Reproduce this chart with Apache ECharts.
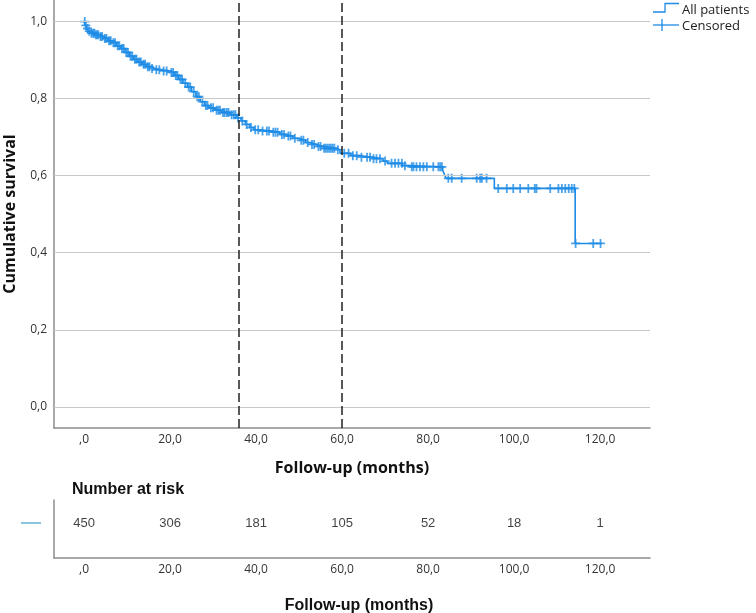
<!DOCTYPE html>
<html><head><meta charset="utf-8">
<script src="https://cdn.jsdelivr.net/npm/echarts@6/dist/echarts.min.js"></script>
<style>html,body{margin:0;padding:0;background:#fff}#c{width:756px;height:613px}</style>
</head><body><div id="c"></div>
<script>
// Kaplan-Meier step curve (time in months, survival after each event)
const eventTimes = [0,0.3,0.6,1,1.5,2.5,3.5,4.5,5.5,6.5,7.5,8.5,9.5,10.5,11.5,12.5,13.5,14.5,15.5,16.5,18,20,21,22,23,24,25,26,27,28,29,30.5,32,34,35.5,36.5,37.5,38.5,39.5,41,43.5,45.5,47,48.5,50,51.5,52.5,54,55.5,58.5,59.5,62,64,67,69.5,70.5,74,75.5,83.4,83.8,84.2,95.4,114.2,120.4];
const eventSurvival = [1,0.99,0.982,0.975,0.97,0.966,0.961,0.956,0.95,0.945,0.937,0.93,0.92,0.91,0.902,0.895,0.889,0.883,0.878,0.875,0.872,0.868,0.86,0.85,0.84,0.83,0.818,0.805,0.792,0.782,0.776,0.77,0.764,0.758,0.75,0.742,0.733,0.725,0.719,0.716,0.713,0.707,0.703,0.697,0.692,0.686,0.681,0.676,0.671,0.667,0.658,0.652,0.648,0.644,0.638,0.632,0.626,0.623,0.614,0.603,0.593,0.567,0.424,0.424];
// Censored observations
const censorTimes = [0.15,0.4,0.8,1.2,1.7,2.1,2.4,2.7,3.0,3.3,3.8,4.2,4.8,5.2,5.8,6.2,6.8,7.2,7.8,8.2,8.8,9.2,9.8,10.2,10.8,11.2,11.8,12.2,12.8,13.2,13.8,14.2,14.8,15.2,15.8,16.8,17.5,18.5,19.2,20.3,20.7,21.3,21.7,22.4,22.8,23.5,24.3,24.7,25.5,26.3,26.7,27.5,28.3,28.7,29.5,30,30.8,31.2,31.6,32.3,32.7,33.2,33.6,34.3,34.8,35.2,35.8,36.8,37.8,38.8,39.8,40.5,41.5,42.5,43,44,44.5,45,46,46.5,47.5,48,49,50.5,51,52,53,53.5,54.5,55,55.8,56.2,56.6,57,57.4,57.8,58.2,59,60.5,61.5,62.5,63.4,64.5,65.8,66.5,67.3,68,68.8,70,71.5,72.3,73.1,73.9,74.6,76.2,76.6,77.3,78.1,78.9,79.7,81.2,82.4,82.8,83.2,84.7,85.5,87.8,91.3,92.1,92.5,93.6,96.3,98.3,99.8,101.4,103.3,104.8,105.2,108.4,110.3,111.1,111.9,112.7,113.4,114,114.3,118.4,120.1];
const censorSurvival = [1,0.99,0.982,0.975,0.97,0.97,0.97,0.966,0.966,0.966,0.961,0.961,0.956,0.956,0.95,0.95,0.945,0.945,0.937,0.937,0.93,0.93,0.92,0.92,0.91,0.91,0.902,0.902,0.895,0.895,0.889,0.889,0.883,0.883,0.878,0.875,0.875,0.872,0.872,0.868,0.868,0.86,0.86,0.85,0.85,0.84,0.83,0.83,0.818,0.805,0.805,0.792,0.782,0.782,0.776,0.776,0.77,0.77,0.77,0.764,0.764,0.764,0.764,0.758,0.758,0.758,0.75,0.742,0.733,0.725,0.719,0.719,0.716,0.716,0.716,0.713,0.713,0.713,0.707,0.707,0.703,0.703,0.697,0.692,0.692,0.686,0.681,0.681,0.676,0.676,0.671,0.671,0.671,0.671,0.671,0.671,0.671,0.667,0.658,0.658,0.652,0.652,0.648,0.648,0.648,0.644,0.644,0.644,0.638,0.632,0.632,0.632,0.632,0.626,0.623,0.623,0.623,0.623,0.623,0.623,0.623,0.623,0.623,0.623,0.593,0.593,0.593,0.593,0.593,0.593,0.593,0.567,0.567,0.567,0.567,0.567,0.567,0.567,0.567,0.567,0.567,0.567,0.567,0.567,0.567,0.424,0.424,0.424];
const riskTimes = [0,20,40,60,80,100,120];
const riskCounts = [450,306,181,105,52,18,1];
const xTicks = [0,20,40,60,80,100,120];
const yTicks = [0,0.2,0.4,0.6,0.8,1.0];
const refLines = [36,60];

const BLUE = '#1e8ce6';
const fmtX = v => v === 0 ? ',0' : v.toFixed(1).replace('.', ',');
const fmtY = v => v.toFixed(1).replace('.', ',');
const plus = 'path://M-0.2,-1H0.2V-0.2H1V0.2H0.2V1H-0.2V0.2H-1V-0.2H-0.2Z';
const XMIN = -7, XMAX = 131.6;

const chart = echarts.init(document.getElementById('c'), null, {renderer: 'canvas'});
chart.setOption({
  animation: false,
  backgroundColor: '#fff',
  grid: [
    {left: 54, top: 0, width: 596, height: 428, containLabel: false, outerBoundsMode: 'none'},
    {left: 54, top: 500, width: 596, height: 58, containLabel: false, outerBoundsMode: 'none'}
  ],
  xAxis: [
    {type: 'value', gridIndex: 0, min: XMIN, max: XMAX,
     axisLine: {show: true, onZero: false, lineStyle: {color: '#8c8c8c', width: 1.5}},
     axisTick: {show: false}, splitLine: {show: false},
     axisLabel: {customValues: xTicks, formatter: fmtX, color: '#333', fontFamily: 'Open Sans', fontSize: 12, margin: 6},
     name: 'Follow-up (months)', nameLocation: 'middle', nameGap: 32,
     nameTextStyle: {fontFamily: 'Open Sans', fontWeight: 'bold', fontSize: 16, color: '#111'}},
    {type: 'value', gridIndex: 1, min: XMIN, max: XMAX,
     axisLine: {show: true, onZero: false, lineStyle: {color: '#8c8c8c', width: 1.5}},
     axisTick: {show: false}, splitLine: {show: false},
     axisLabel: {customValues: xTicks, formatter: fmtX, color: '#333', fontFamily: 'Open Sans', fontSize: 12, margin: 6},
     name: 'Follow-up (months)', nameLocation: 'middle', nameGap: 40,
     nameTextStyle: {fontFamily: 'Liberation Sans', fontWeight: 'bold', fontSize: 16, color: '#111', padding: [0,0,0,14]}}
  ],
  yAxis: [
    {type: 'value', gridIndex: 0, min: -0.055, max: 1.056,
     axisLine: {show: true, onZero: false, lineStyle: {color: '#8c8c8c', width: 1.5}},
     axisTick: {show: false}, splitLine: {show: false},
     axisLabel: {customValues: yTicks, formatter: fmtY, color: '#333', fontFamily: 'Open Sans', fontSize: 12, margin: 7},
     name: 'Cumulative survival', nameLocation: 'middle', nameGap: 36, nameRotate: 90,
     nameTextStyle: {fontFamily: 'Open Sans', fontWeight: 'bold', fontSize: 16, color: '#111'}},
    {type: 'value', gridIndex: 1, min: 0, max: 1,
     axisLine: {show: true, onZero: false, lineStyle: {color: '#8c8c8c', width: 1.5}},
     axisTick: {show: false}, splitLine: {show: false}, axisLabel: {show: false}}
  ],
  series: [
    {type: 'line', name: 'grid', xAxisIndex: 0, yAxisIndex: 0, z: 1, data: [], silent: true,
     markLine: {silent: true, symbol: 'none', label: {show: false},
       lineStyle: {color: '#c8c8c8', width: 1, type: 'solid'},
       data: yTicks.map(v => ({yAxis: v}))}},
    {type: 'line', name: 'All patients', xAxisIndex: 0, yAxisIndex: 0, z: 3, step: 'end', showSymbol: false, symbol: 'none',
     lineStyle: {color: BLUE, width: 1.6},
     data: eventTimes.map((t, i) => [t, eventSurvival[i]])},
    {type: 'scatter', name: 'Censored', xAxisIndex: 0, yAxisIndex: 0, z: 4, symbol: plus, symbolSize: 9,
     itemStyle: {color: BLUE},
     data: censorTimes.map((t, i) => [t, censorSurvival[i]])},
    {type: 'line', name: 'ref', xAxisIndex: 0, yAxisIndex: 0, z: 5, data: [], silent: true,
     markLine: {silent: true, symbol: 'none', label: {show: false},
       lineStyle: {color: '#222', width: 1.5, type: [9, 4]},
       data: refLines.map(v => ({xAxis: v}))}},
    {type: 'scatter', name: 'risk', xAxisIndex: 1, yAxisIndex: 1, symbolSize: 0, silent: true,
     data: riskTimes.map((t, i) => [t, 0.6, riskCounts[i]]),
     label: {show: true, position: 'inside', formatter: p => String(p.data[2]),
       fontFamily: 'Liberation Sans', fontSize: 13, color: '#111'}}
  ],
  graphic: [
    {type: 'polyline', shape: {points: [[653, 12], [665, 12], [665, 3.5], [679, 3.5]]}, style: {stroke: BLUE, lineWidth: 1.3, fill: null}},
    {type: 'line', shape: {x1: 653, y1: 25, x2: 679, y2: 25}, style: {stroke: BLUE, lineWidth: 1.3}},
    {type: 'line', shape: {x1: 662, y1: 19, x2: 662, y2: 31}, style: {stroke: BLUE, lineWidth: 1.3}},
    {type: 'text', x: 682, y: 10, style: {text: 'All patients', font: '13px "Open Sans"', fill: '#222', textVerticalAlign: 'middle'}},
    {type: 'text', x: 682, y: 26, style: {text: 'Censored', font: '13px "Open Sans"', fill: '#222', textVerticalAlign: 'middle'}},
    {type: 'text', x: 72, y: 490, style: {text: 'Number at risk', font: 'bold 16px "Liberation Sans"', fill: '#111', textVerticalAlign: 'middle'}},
    {type: 'line', shape: {x1: 21, y1: 523, x2: 41, y2: 523}, style: {stroke: '#8cc4dd', lineWidth: 2}}
  ]
});
</script></body></html>
